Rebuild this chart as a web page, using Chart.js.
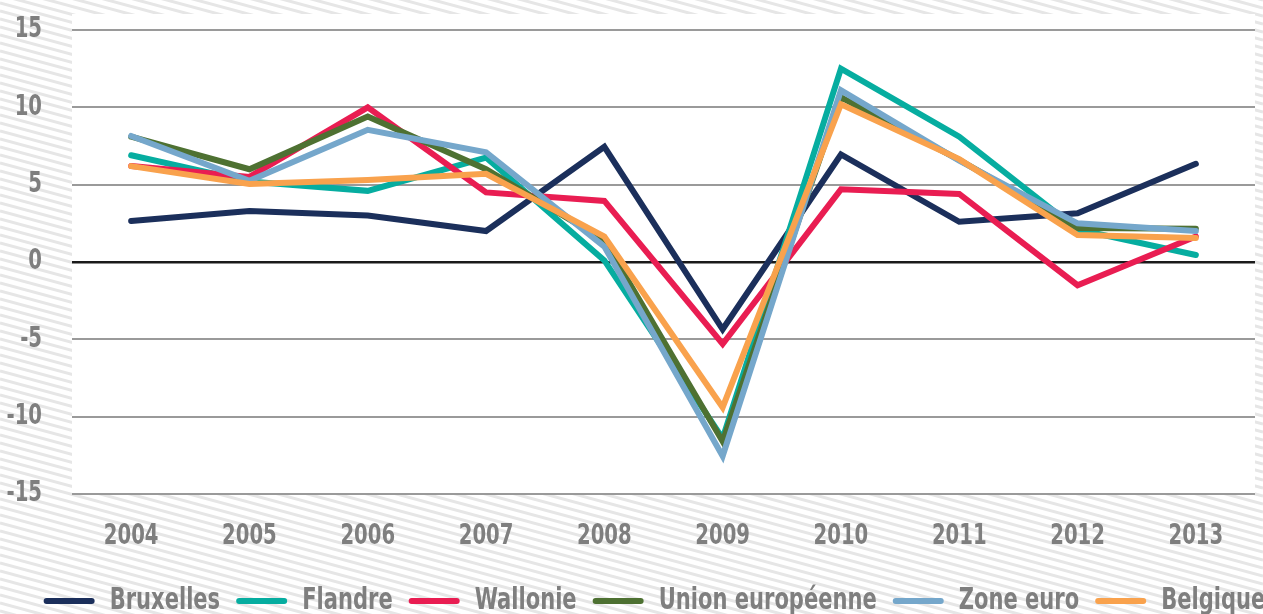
<!DOCTYPE html>
<html>
<head>
<meta charset="utf-8">
<script src="https://cdn.jsdelivr.net/npm/chart.js@4.4.1/dist/chart.umd.min.js"></script>
<style>
html,body{margin:0;padding:0;background:#fff;}
#wrap{width:1263px;height:614px;position:relative;}
</style>
</head>
<body>
<div id="wrap"><canvas id="c" width="1263" height="614"></canvas></div>
<script>
const years = ['2004','2005','2006','2007','2008','2009','2010','2011','2012','2013'];
const bruxelles = [2.65, 3.3, 3.0, 2.0, 7.45, -4.35, 6.95, 2.6, 3.15, 6.35];
const flandre = [6.9, 5.2, 4.6, 6.75, 0.1, -11.4, 12.5, 8.1, 2.1, 0.45];
const wallonie = [6.2, 5.5, 10.0, 4.5, 3.95, -5.3, 4.7, 4.4, -1.5, 1.65];
const unionEuropeenne = [8.1, 6.0, 9.4, 6.0, 1.4, -11.6, 10.65, 6.6, 2.2, 2.15];
const zoneEuro = [8.15, 5.25, 8.55, 7.1, 1.0, -12.55, 11.1, 6.55, 2.5, 2.0];
const belgique = [6.2, 5.05, 5.3, 5.7, 1.65, -9.4, 10.2, 6.65, 1.75, 1.55];
const yTicks = [-15, -10, -5, 0, 5, 10, 15];

const seriesNames = ['Bruxelles','Flandre','Wallonie','Union européenne','Zone euro','Belgique'];
const seriesData = [bruxelles, flandre, wallonie, unionEuropeenne, zoneEuro, belgique];
const seriesColors = ['#1b2f5b','#06ada0','#e91d52','#4e7132','#75a7cb','#f9a24d'];

const FONT = "'DejaVu Sans Condensed','DejaVu Sans',sans-serif";
const GREY = '#7f7f7f';
const TEXT_SX = 0.78; // horizontal squeeze to mimic the original extra-condensed face

// Squeeze text horizontally (keeps it as real canvas text)
(function () {
  const P = CanvasRenderingContext2D.prototype;
  const origFill = P.fillText, origMeasure = P.measureText;
  P.fillText = function (text, x, y, maxW) {
    if (!this.__squeeze) return origFill.apply(this, arguments);
    this.save();
    this.translate(x, y);
    this.scale(TEXT_SX, 1);
    if (maxW !== undefined) origFill.call(this, text, 0, 0, maxW / TEXT_SX);
    else origFill.call(this, text, 0, 0);
    this.restore();
  };
  P.measureText = function (text) {
    const m = origMeasure.call(this, text);
    if (!this.__squeeze) return m;
    return {
      width: m.width * TEXT_SX,
      actualBoundingBoxAscent: m.actualBoundingBoxAscent,
      actualBoundingBoxDescent: m.actualBoundingBoxDescent,
      actualBoundingBoxLeft: m.actualBoundingBoxLeft * TEXT_SX,
      actualBoundingBoxRight: m.actualBoundingBoxRight * TEXT_SX,
      fontBoundingBoxAscent: m.fontBoundingBoxAscent,
      fontBoundingBoxDescent: m.fontBoundingBoxDescent
    };
  };
})();

const bgPlugin = {
  id: 'bg',
  beforeDraw(chart) {
    const ctx = chart.ctx, W = chart.width, H = chart.height;
    ctx.save();
    ctx.fillStyle = '#ffffff';
    ctx.fillRect(0, 0, W, H);
    ctx.strokeStyle = '#e6e6e6';
    ctx.lineWidth = 3;
    const slope = 0.27, step = 8;
    for (let b = -W * slope - step; b < H + step; b += step) {
      ctx.beginPath();
      ctx.moveTo(0, b);
      ctx.lineTo(W, b + W * slope);
      ctx.stroke();
    }
    const a = chart.chartArea;
    ctx.fillStyle = '#ffffff';
    ctx.fillRect(a.left, a.top - 16, a.right - a.left, a.bottom - a.top + 17);
    ctx.restore();
  }
};

const LEGEND_SHIFT = 27;
const legendShift = {
  id: 'legendShift',
  afterLayout(chart) {
    const lg = chart.legend;
    if (lg) { lg.left += LEGEND_SHIFT; lg.right += LEGEND_SHIFT; }
  }
};

const cv = document.getElementById('c');
cv.getContext('2d').__squeeze = true;

new Chart(cv, {
  type: 'line',
  data: {
    labels: years,
    datasets: seriesNames.map((n, i) => ({
      label: n,
      data: seriesData[i],
      borderColor: seriesColors[i],
      backgroundColor: seriesColors[i],
      borderWidth: 6,
      pointRadius: 0,
      pointHoverRadius: 0,
      tension: 0,
      borderCapStyle: 'round',
      borderJoinStyle: 'miter',
      fill: false,
      order: seriesNames.length - i
    }))
  },
  options: {
    responsive: false,
    animation: false,
    devicePixelRatio: 1,
    layout: { padding: { left: 0, right: 8, top: 30, bottom: -12 } },
    plugins: {
      tooltip: { enabled: false },
      legend: {
        position: 'bottom',
        align: 'center',
        labels: {
          sort: (a, b) => a.datasetIndex - b.datasetIndex,
          color: GREY,
          font: { family: FONT, size: 30, weight: 'bold' },
          boxWidth: 51,
          boxHeight: 6,
          padding: 16,
          useBorderRadius: true,
          borderRadius: 3,
          generateLabels(chart) {
            return chart.data.datasets.map((d, i) => ({
              text: d.label,
              fillStyle: d.borderColor,
              strokeStyle: d.borderColor,
              lineWidth: 0,
              datasetIndex: i,
              fontColor: GREY,
              borderRadius: 3,
              hidden: false
            }));
          }
        }
      }
    },
    scales: {
      x: {
        offset: true,
        grid: { display: false, drawTicks: false },
        border: { display: false },
        afterFit(scale) { scale.height = 76; },
        ticks: { color: GREY, font: { family: FONT, size: 28, weight: 'bold' }, padding: 26, maxRotation: 0 }
      },
      y: {
        min: -15, max: 15,
        afterBuildTicks(scale) { scale.ticks = yTicks.map(v => ({ value: v })); },
        afterFit(scale) { scale.width = 72; scale.paddingTop = 0; scale.paddingBottom = 0; },
        grid: {
          drawTicks: false,
          color: ctx => ctx.tick && ctx.tick.value === 0 ? '#1a1a1a' : '#9a9a9a',
          lineWidth: ctx => ctx.tick && ctx.tick.value === 0 ? 2.5 : 2
        },
        border: { display: false },
        ticks: { color: GREY, font: { family: FONT, size: 28, weight: 'bold' }, padding: 30 }
      }
    }
  },
  plugins: [bgPlugin, legendShift]
});
</script>
</body>
</html>
